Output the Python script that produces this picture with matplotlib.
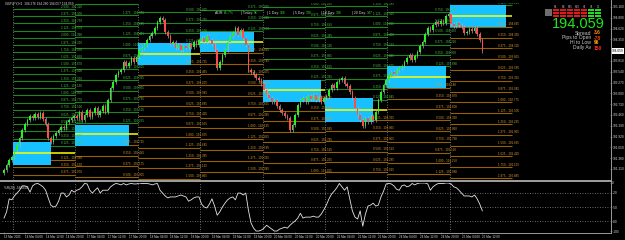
import matplotlib.pyplot as plt
from matplotlib.patches import Rectangle
from matplotlib.lines import Line2D

plt.rcParams['font.family'] = ['Liberation Sans', 'DejaVu Sans']

symbol = "GBPJPY,H1"
ohlc_header = "194.276 194.280 194.057 194.059"
last_price = 194.059
first_open = 191.0

# hourly closes, 13 Mar 20:00 -> 25 Mar 12:00
closes = [
    191.085, 191.210, 191.335, 191.410,
    191.585, 191.710, 191.885, 192.085, 192.235, 192.335, 192.435, 192.385, 192.485, 192.410, 192.510, 192.360,
    192.235, 191.885, 191.785, 191.935, 192.010, 192.085, 192.160, 192.135, 192.285, 192.335, 192.385, 192.435,
    192.385, 192.535, 192.335, 192.460, 192.585, 192.410, 192.510, 192.635, 192.460, 192.560, 192.685, 192.535,
    192.835, 193.135, 193.285, 193.460, 193.535, 193.585, 193.785, 193.685, 193.760, 193.885, 193.785, 193.910,
    194.085, 194.135, 194.210, 194.335, 194.435, 194.510, 194.635, 194.785, 194.885, 194.835, 194.535, 194.435,
    194.235, 194.285, 194.135, 194.210, 194.085, 194.185, 194.135, 194.235, 194.160, 194.285, 194.210, 194.335,
    194.385, 194.285, 194.435, 194.335, 194.235, 194.085, 193.635, 193.785, 193.960, 194.085, 194.285, 194.435,
    194.510, 194.635, 194.460, 194.585, 194.385, 194.210, 193.585, 193.535, 193.460, 193.385, 193.335, 193.235,
    193.085, 192.960, 192.885, 192.785, 192.835, 192.685, 192.585, 192.510, 192.435, 192.385, 192.085, 192.210,
    192.460, 192.710, 192.835, 192.885, 192.785, 192.935, 192.860, 192.960, 192.835, 192.910, 192.785, 192.885,
    192.935, 193.085, 193.210, 193.135, 193.285, 193.335, 193.385, 193.235, 193.185, 193.035, 192.885, 192.635,
    192.460, 192.335, 192.185, 192.385, 192.285, 192.435, 192.335, 192.535, 192.835, 193.035, 193.210, 193.335,
    193.460, 193.535, 193.485, 193.585, 193.635, 193.685, 193.785, 193.885, 193.960, 193.835, 193.935, 194.035,
    194.185, 194.285, 194.485, 194.635, 194.585, 194.710, 194.785, 194.735, 194.810, 194.760, 194.935, 194.985,
    194.735, 194.685, 194.760, 194.710, 194.660, 194.510, 194.535, 194.610, 194.560, 194.635, 194.485, 194.335,
    194.059,
]

# Williams %R(20)
wr_values = [
    -73, -60, -33, -35, -27, -21, -15, -6, -6, -8, -19, -6, -2, -1, -4, -8, -15, -31, -46, -50, -48, -38, -21, -21,
    -29, -25, -15, -19,
    -15, -13, -8, -1, -2, -15, -21, -15, -10, -21, -15, -15, -15, -8, -4, -1, -2, -4, -1, -4, -2, -1, -2, -2,
    0, -1, -1, -1, -2, -4, -2, -1, -15, -21, -27, -31, -29, -29, -29, -27, -25, -27, -29, -38, -35, -31, -29, -29,
    -44, -50, -52, -44, -33, -48, -67, -60, -50, -42, -35, -31, -29, -35, -21, -21, -25, -21, -56, -83, -94, -100, -100, -98,
    -94, -88, -92, -96, -100, -100, -96, -94, -92, -94, -88, -83, -79, -73, -63, -73, -71, -71, -71, -69, -71, -71, -65, -56,
    -46, -33, -23, -17, -10, -1, -8, -15, -8, -33, -58, -71, -75, -58, -90, -65, -48, -46, -42, -48, -46, -29, -17, -2,
    -1, -2, -6, -13, -15, -6, -4, -8, -6, -1, -4, -1, 0, 0, 0, -2, -15, -8, -4, -1, -1, -1, 0, 0,
    -2, -8, -10, -15, -21, -27, -27, -27, -29, -25, -33, -44, -58,
]
wr_title = "%R(20) -58.6602"

time_labels = [
    "13 Mar 2025", "14 Mar 04:00", "14 Mar 12:00", "14 Mar 20:00", "17 Mar 04:00", "17 Mar 12:00",
    "17 Mar 20:00", "18 Mar 04:00", "18 Mar 12:00", "18 Mar 20:00", "19 Mar 04:00", "19 Mar 12:00",
    "19 Mar 20:00", "20 Mar 04:00", "20 Mar 12:00", "20 Mar 20:00", "21 Mar 04:00", "21 Mar 12:00",
    "21 Mar 20:00", "24 Mar 04:00", "24 Mar 12:00", "24 Mar 20:00", "25 Mar 04:00", "25 Mar 12:00",
]
label_every = 8  # one label per 8 hourly bars

# daily sessions: first bar, open, ADR step (1/8 of ADR), number of levels drawn
session_start_bar = [4, 28, 52, 76, 100, 124, 148, 172]
session_open = [191.510, 191.985, 193.985, 194.285, 193.085, 192.585, 193.410, 194.935]
level_step = [0.18, 0.27, 0.26, 0.27, 0.26, 0.26, 0.27, 0.27]
levels_up = [20, 12, 4, 3, 8, 10, 6, 1]
levels_down = [3, 4, 12, 12, 8, 6, 9, 15]
range_high = [191.785, 192.210, 194.260, 194.535, 193.335, 192.885, 193.685, 195.210]
range_low = [191.210, 191.685, 193.710, 194.035, 192.785, 192.285, 193.135, 194.660]
range_end_bar = [18, 48, 72, 96, 122, 142, 170, 193]

price_ticks = [195.160, 194.890, 194.620, 194.350, 193.810, 193.540, 193.270, 193.000,
               192.730, 192.460, 192.190, 191.920, 191.650, 191.380, 191.110]
wr_ticks = [0, -20, -50, -80, -100]
wr_levels = [-20, -50, -80]

adr_labels = ["ADR: ", "| Today: ", "| 1 Day: ", "| 5 Day: ", "| 10 Day: ", "| 20 Day: "]
adr_values = ["61.7%", "96", "166", "130", "136", "147"]
stats_names = ["Spread", "Pips to Open", "Hi to Low", "Daily Av"]
stats_values = ["3.6", "-78", "96", "150"]
tf_names = ["M1", "M5", "M15", "M30", "H1", "H4", "D1"]
tf_bull = [False, False, False, False, False, True, True]

# colours
GREEN_LINE, GREEN_TXT = '#1f861f', '#4cc24c'
ORANGE_LINE, ORANGE_TXT = '#946200', '#d9982b'
BOX = '#17c1ff'
BULL, BEAR, WICK = '#26f226', '#ff4b4b', '#b4b4b4'
GRID = '#8c8c8c'
TXT = '#d6d6d6'


def fx(px):
    return px / 625


def fy(py):
    return 1 - py / 240


fig = plt.figure(figsize=(6.25, 2.4), dpi=100, facecolor='black')
ax = fig.add_axes([fx(2), fy(180), 608 / 625, 177 / 240], facecolor='black')
ax2 = fig.add_axes([fx(2), fy(232), 608 / 625, 49 / 240], facecolor='black')

n = len(closes)
bars = list(range(n))
xmin, xmax = -0.77, 233.1

# --- daily ADR levels, ranges, open lines
for d in range(len(session_start_bar)):
    x0 = session_start_bar[d] - 0.5
    x1 = session_start_bar[d + 1] - 0.5 if d + 1 < len(session_start_bar) else x0 + 24
    op, st = session_open[d], level_step[d]
    ax.add_patch(Rectangle((x0, range_low[d]), range_end_bar[d] - x0, range_high[d] - range_low[d],
                           facecolor=BOX, edgecolor='none', zorder=2))
    ax.hlines(op, x0, x1, color='#ffff00', lw=1.1, zorder=2.2)
    for k in range(1, levels_up[d] + 1):
        p = op + k * st
        ax.hlines(p, x0, x1, color=GREEN_LINE, lw=0.8, zorder=1)
        ax.text(x1 - 1.5, p + 0.012, f"{k * 0.125:.3f} - {p:.3f}", fontsize=2.2, color=GREEN_TXT,
                ha='center', va='bottom', zorder=4, clip_on=True)
    for k in range(1, levels_down[d] + 1):
        p = op - k * st
        ax.hlines(p, x0, x1, color=ORANGE_LINE, lw=0.8, zorder=1)
        ax.text(x1 - 1.5, p + 0.012, f"{k * 0.125:.3f} - {p:.3f}", fontsize=2.2, color=ORANGE_TXT,
                ha='center', va='bottom', zorder=4, clip_on=True)
    for a in (ax, ax2):
        a.axvline(x0, color=GRID, lw=0.6, ls=(0, (1, 2)), zorder=1.5)

# --- candles
opens = [first_open] + closes[:-1]
body_lo = [min(o, c) for o, c in zip(opens, closes)]
body_hi = [max(o, c) for o, c in zip(opens, closes)]
heights = [max(h - l, 0.012) for h, l in zip(body_hi, body_lo)]
colors = [BULL if c >= o else BEAR for o, c in zip(opens, closes)]
ax.vlines(bars, [l - 0.045 for l in body_lo], [h + 0.045 for h in body_hi], color=WICK, lw=0.45, zorder=2.9)
ax.bar(bars, heights, bottom=body_lo, width=0.62, color=colors, linewidth=0, zorder=3)

ax.set_xlim(xmin, xmax)
ax.set_ylim(190.835, 195.26)
ax.set_xticks([])
ax.set_yticks(price_ticks)
ax.set_yticklabels([f"{p:.3f}" for p in price_ticks])
ax.tick_params(axis='y', left=False, labelleft=False, right=True, labelright=True, length=1.2,
               width=0.4, color=GRID, pad=0.5, labelsize=2.3, labelcolor=TXT)
ax.text(1.002, last_price, f"{last_price:.3f}", transform=ax.get_yaxis_transform(), fontsize=2.3,
        color='black', va='center', ha='left', clip_on=False,
        bbox=dict(boxstyle='square,pad=0.2', facecolor='white', edgecolor='none'))

# --- Williams %R panel
ax2.plot(bars, wr_values, color='#e6e6e6', lw=0.6, zorder=3)
for lv in wr_levels:
    ax2.axhline(lv, color=GRID, lw=0.6, ls=(0, (1, 2)), zorder=1)
ax2.set_xlim(xmin, xmax)
ax2.set_ylim(-102, 0)
ax2.set_yticks(wr_ticks)
ax2.set_yticklabels([str(v) for v in wr_ticks])
ax2.tick_params(axis='y', left=False, labelleft=False, right=True, labelright=True, length=1.2,
                width=0.4, color=GRID, pad=0.5, labelsize=2.3, labelcolor=TXT)
ax2.set_xticks([i * label_every for i in range(len(time_labels))])
ax2.set_xticklabels(time_labels)
ax2.tick_params(axis='x', length=1.5, width=0.4, color=GRID, pad=0.6, labelsize=2.2, labelcolor=TXT)
for t in ax2.get_xticklabels():
    t.set_ha('left')
ax2.text(0.003, 0.93, wr_title, transform=ax2.transAxes, fontsize=2.3, color=TXT, va='top', ha='left')

for a in (ax, ax2):
    for s in a.spines.values():
        s.set_visible(False)

# frame lines
fig.add_artist(Line2D([fx(610.5)] * 2, [fy(0), fy(232.5)], color='#9a9a9a', lw=0.7))
fig.add_artist(Line2D([fx(0), fx(610.5)], [fy(232.5)] * 2, color='#9a9a9a', lw=0.7))
fig.add_artist(Line2D([fx(0), fx(610.5)], [fy(181)] * 2, color='#a0a0a0', lw=1.4))

# header text
fig.text(fx(5), fy(4), f"{symbol}  {ohlc_header}", fontsize=2.3, color=TXT, va='center', ha='left')

adr_x = [215, 241, 267, 293, 321, 352]
for x, lab, val in zip(adr_x, adr_labels, adr_values):
    t = fig.text(fx(x), fy(13), lab, fontsize=2.5, color=TXT, va='center', ha='left')
    ax.annotate(val, xy=(1, 0), xycoords=t, va='bottom', ha='left', fontsize=2.5,
                color='#33dd33', annotation_clip=False)

# top-right dashboard
fig.add_artist(Rectangle((fx(545), fy(16)), 7 / 625, 7 / 240, transform=fig.transFigure,
                         facecolor='#6e6e6e', edgecolor='none'))
for i, (name, bull) in enumerate(zip(tf_names, tf_bull)):
    cx = 553 + 7 * i
    fig.text(fx(cx + 3), fy(7), name, fontsize=1.8, color='#bbbbbb', ha='center', va='center')
    for row in range(3):
        fig.add_artist(Rectangle((fx(cx), fy(11 + 2.8 * row)), 6 / 625, 2 / 240,
                                 transform=fig.transFigure, edgecolor='none',
                                 facecolor='#22dd22' if bull else '#e01818'))

fig.text(fx(578), fy(24.5), f"{last_price:.3f}", fontsize=10.5, color='#1ee61e', ha='center', va='center')
stats_colors = ['#ff8c00', '#ff4500', '#ffa500', '#ff2a2a']
for j, (name, val) in enumerate(zip(stats_names, stats_values)):
    yy = 33 + 5 * j
    fig.text(fx(591), fy(yy), name, fontsize=3.6, color='#c8c8c8', ha='right', va='center')
    fig.text(fx(594), fy(yy), val, fontsize=3.6, color=stats_colors[j], ha='left', va='center',
             fontweight='bold')

fig.savefig('out.png', dpi=100, facecolor='black')
